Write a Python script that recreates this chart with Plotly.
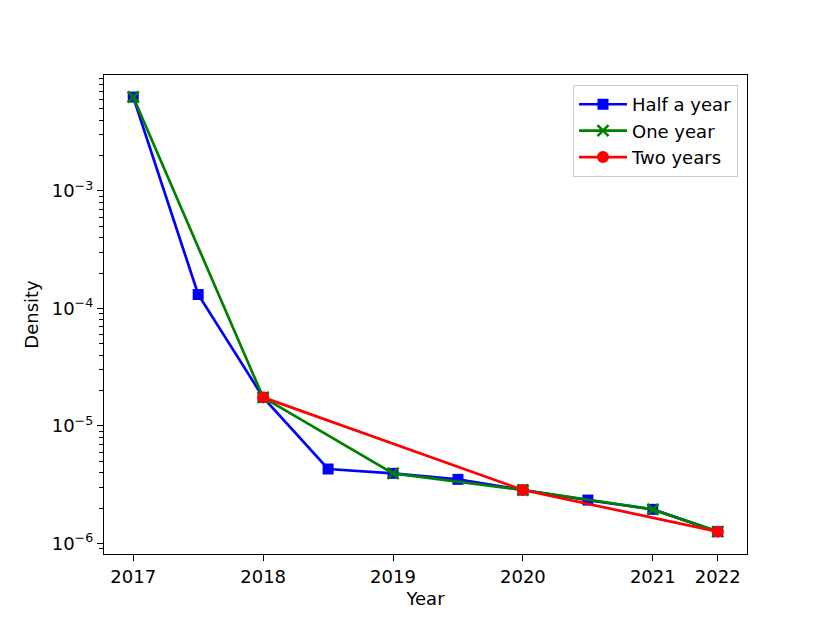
import plotly.graph_objects as go

# Data
x_labels = ["2017", "2018", "2019", "2020", "2021", "2022"]
x_label_pos = [0, 2, 4, 6, 8, 9]

half_x = [0, 1, 2, 3, 4, 5, 6, 7, 8, 9]
half_y = [6.3e-3, 1.315e-4, 1.75e-5, 4.3e-6, 3.95e-6, 3.51e-6, 2.85e-6, 2.34e-6, 1.95e-6, 1.26e-6]

one_x = [0, 2, 4, 6, 8, 9]
one_y = [6.3e-3, 1.75e-5, 3.95e-6, 2.85e-6, 1.95e-6, 1.26e-6]

two_x = [2, 6, 9]
two_y = [1.75e-5, 2.85e-6, 1.26e-6]

y_tick_vals = [1e-6, 1e-5, 1e-4, 1e-3]
y_tick_text = ["10<sup>\u22126</sup>", "10<sup>\u22125</sup>", "10<sup>\u22124</sup>", "10<sup>\u22123</sup>"]

FONT = "DejaVu Sans"
LW = 2.7

fig = go.Figure()
fig.add_trace(go.Scatter(
    x=half_x, y=half_y, mode="lines+markers", name="Half a year",
    line=dict(color="#0000ff", width=LW),
    marker=dict(symbol="square", size=11, color="#0000ff", line=dict(width=0))))
fig.add_trace(go.Scatter(
    x=one_x, y=one_y, mode="lines+markers", name="One year",
    line=dict(color="#008000", width=LW),
    marker=dict(symbol="x-thin", size=11, color="#008000", line=dict(width=2.7, color="#008000"))))
fig.add_trace(go.Scatter(
    x=two_x, y=two_y, mode="lines+markers", name="Two years",
    line=dict(color="#ff0000", width=LW),
    marker=dict(symbol="circle", size=12, color="#ff0000", line=dict(width=0))))

minor_vals = [m * 10.0 ** e for e in range(-7, -1) for m in range(2, 10)]

# page body has an 8px margin: figure is 822x614 placed at (8,8)
fig.update_layout(
    width=822, height=614,
    margin=dict(l=96, r=83, t=67, b=68),
    paper_bgcolor="white", plot_bgcolor="white",
    font=dict(family=FONT, size=18, color="black"),
    showlegend=True,
    legend=dict(x=0.986, y=0.979, xanchor="right", yanchor="top",
                bordercolor="#cccccc", borderwidth=1, bgcolor="rgba(255,255,255,0.8)",
                font=dict(family=FONT, size=18), tracegroupgap=0, itemwidth=48),
    xaxis=dict(range=[-0.45, 9.45], tickmode="array", tickvals=x_label_pos, ticktext=x_labels,
               showline=True, linecolor="black", linewidth=1.4, mirror=True,
               ticks="outside", ticklen=6, tickwidth=1.4, tickcolor="black",
               showgrid=False, zeroline=False, automargin=False,
               title=dict(text="Year", standoff=6, font=dict(size=18))),
    yaxis=dict(type="log", range=[-6.09, -2.013], tickmode="array",
               tickvals=y_tick_vals, ticktext=y_tick_text,
               showline=True, linecolor="black", linewidth=1.4, mirror=True,
               ticks="outside", ticklen=6, tickwidth=1.4, tickcolor="black",
               showgrid=False, zeroline=False, automargin=False,
               minor=dict(tickmode="array", tickvals=minor_vals, ticks="outside",
                          ticklen=3.5, tickwidth=1.1, tickcolor="black", showgrid=False),
               title=dict(text="Density", standoff=8, font=dict(size=18))),
)

fig.write_html("out.html")
